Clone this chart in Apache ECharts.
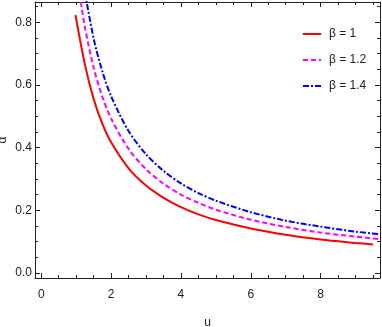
<!DOCTYPE html>
<html>
<head>
<meta charset="utf-8">
<script src="https://cdn.jsdelivr.net/npm/echarts@6/dist/echarts.min.js"></script>
<style>
  html, body { margin: 0; padding: 0; background: #fff; }
  #chart { width: 382px; height: 327px; }
</style>
</head>
<body>
<div id="chart"></div>
<script>
// data: [u, alpha]
const beta1 = [[0.98, 0.823], [1.25, 0.665], [1.5, 0.555], [1.75, 0.476], [2, 0.417], [2.5, 0.334], [3, 0.279], [3.5, 0.240], [4, 0.210], [4.5, 0.187], [5, 0.169], [6, 0.142], [7, 0.122], [8, 0.107], [9, 0.096], [9.5, 0.091]];
const beta12 = [[1.1, 0.89], [1.25, 0.784], [1.5, 0.655], [1.75, 0.562], [2, 0.493], [2.5, 0.396], [3, 0.331], [3.5, 0.285], [4, 0.250], [4.5, 0.224], [5, 0.202], [6, 0.170], [7, 0.147], [8, 0.129], [9, 0.116], [9.7, 0.108]];
const beta14 = [[1.25, 0.896], [1.5, 0.748], [1.75, 0.643], [2, 0.564], [2.5, 0.453], [3, 0.379], [3.5, 0.326], [4, 0.286], [4.5, 0.255], [5, 0.231], [6, 0.194], [7, 0.167], [8, 0.148], [9, 0.132], [9.7, 0.124]];
const seriesNames = ['β = 1', 'β = 1.2', 'β = 1.4'];
const xMajor = [0, 2, 4, 6, 8];
const xMinor = [0.5, 1, 1.5, 2.5, 3, 3.5, 4.5, 5, 5.5, 6.5, 7, 7.5, 8.5, 9, 9.5];
const yMajor = [0, 0.2, 0.4, 0.6, 0.8];
const yMinor = [0.05, 0.1, 0.15, 0.25, 0.3, 0.35, 0.45, 0.5, 0.55, 0.65, 0.7, 0.75, 0.85];

const chart = echarts.init(document.getElementById('chart'));
const font = 'Liberation Sans';
const axisCol = '#222';

function xAx(pos, ticks, len, labels, line) {
  return {
    type: 'value', position: pos, min: -0.18, max: 9.7,
    axisLine: { show: line, onZero: false, lineStyle: { color: axisCol, width: 1 } },
    axisTick: { show: true, inside: true, length: len, customValues: ticks, lineStyle: { color: axisCol } },
    axisLabel: labels ? { show: true, customValues: ticks, color: '#222', fontSize: 12, fontFamily: font, margin: 11 } : { show: false },
    splitLine: { show: false },
    name: labels ? 'u' : '', nameLocation: 'middle', nameGap: 39, nameMoveOverlap: false,
    nameTextStyle: { color: '#222', fontSize: 12, fontFamily: font }
  };
}
function yAx(pos, ticks, len, labels, line) {
  return {
    type: 'value', position: pos, min: -0.016, max: 0.865,
    axisLine: { show: line, onZero: false, lineStyle: { color: axisCol, width: 1 } },
    axisTick: { show: true, inside: true, length: len, customValues: ticks, lineStyle: { color: axisCol } },
    axisLabel: labels ? { show: true, customValues: ticks, color: '#222', fontSize: 12, fontFamily: font, margin: 3, formatter: v => v.toFixed(1) } : { show: false },
    splitLine: { show: false },
    name: labels ? 'α' : '', nameLocation: 'middle', nameGap: 26, nameRotate: 90, nameMoveOverlap: false,
    nameTextStyle: { color: '#222', fontSize: 12, fontFamily: font }
  };
}

const option = {
  animation: false,
  grid: { left: 35, right: 2, top: 2, bottom: 49, containLabel: false, outerBoundsMode: 'none' },
  legend: {
    orient: 'vertical', left: 297, top: 23, itemWidth: 18, itemHeight: 14, itemGap: 14,
    data: seriesNames,
    itemStyle: { opacity: 0 },
    textStyle: { color: '#222', fontSize: 12, fontFamily: font, padding: [0, 0, 0, 3] }
  },
  xAxis: [
    xAx('bottom', xMajor, 5, true, true),
    xAx('bottom', xMinor, 3, false, false),
    xAx('top', xMajor, 5, false, true),
    xAx('top', xMinor, 3, false, false)
  ],
  yAxis: [
    yAx('left', yMajor, 5, true, true),
    yAx('left', yMinor, 3, false, false),
    yAx('right', yMajor, 5, false, true),
    yAx('right', yMinor, 3, false, false)
  ],
  series: [
    { name: seriesNames[0], type: 'line', data: beta1, smooth: 0.3, symbol: 'none', clip: true,
      lineStyle: { color: '#ff0000', width: 2, type: 'solid' }, itemStyle: { color: '#ff0000' } },
    { name: seriesNames[1], type: 'line', data: beta12, smooth: 0.3, symbol: 'none', clip: true,
      lineStyle: { color: '#ff00ff', width: 2, type: [5, 3] }, itemStyle: { color: '#ff00ff' } },
    { name: seriesNames[2], type: 'line', data: beta14, smooth: 0.3, symbol: 'none', clip: true,
      lineStyle: { color: '#0000ff', width: 2, type: [6, 2, 2, 2] }, itemStyle: { color: '#0000ff' } }
  ]
};
chart.setOption(option);
</script>
</body>
</html>
